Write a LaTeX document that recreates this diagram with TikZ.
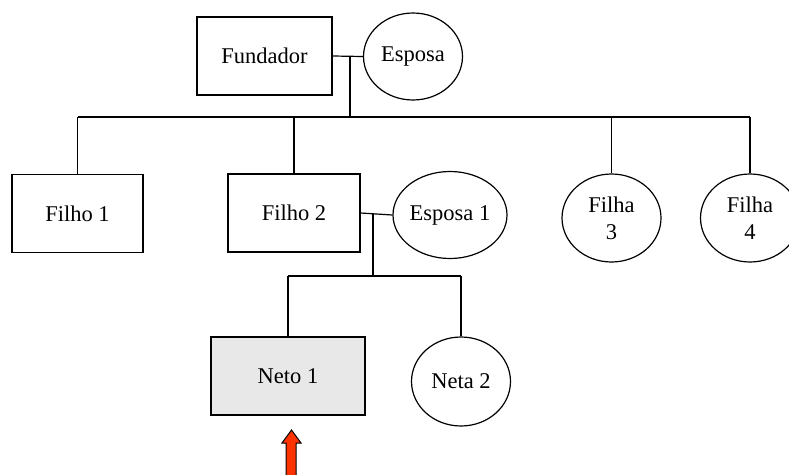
\documentclass[tikz,border=0pt]{standalone}
\usepackage{fontspec}
\setmainfont{Liberation Serif}
\usetikzlibrary{shapes.geometric}
\definecolor{setared}{HTML}{FF3300}
\definecolor{netogray}{HTML}{E8E8E8}
\tikzset{
  caixa/.style={draw,line width=1.2pt,minimum width=#1,minimum height=78pt,inner sep=0pt},
  oval/.style={draw,ellipse,line width=1.2pt,minimum width=99pt,minimum height=87pt,inner sep=0pt,align=center},
  liga/.style={line width=1.2pt},
  desce/.style={line width=2pt}
}
\begin{document}
\begin{tikzpicture}[x=1pt,y=-1pt,font=\fontsize{22.5}{27}\selectfont]
\useasboundingbox (0,0) rectangle (789,474);
\node[caixa=135pt] (Fund) at (264.5,56) {Fundador};
\node[oval] (Esp) at (413,56.5) {Esposa};
\node[caixa=131pt] (F1) at (77.5,213.5) {Filho 1};
\node[caixa=132pt] (F2) at (294,213) {Filho 2};
\node[oval] (Esp1) at (450,215) {Esposa 1};
\node[oval,minimum height=88pt] (F3) at (611.5,218) {Filha\\3};
\node[oval,minimum height=88pt] (F4) at (750,218) {Filha\\4};
\node[caixa=154pt,fill=netogray] (N1) at (288,376) {Neto 1};
\node[oval,minimum height=89pt] (N2) at (461,381.5) {Neta 2};
% casal do fundador
\draw[liga] (Fund.east) -- (Esp.west);
\coordinate (C1) at (350,56);
\coordinate (B1) at (350,117);
\draw[desce] (C1) -- (B1);
\draw[liga] (F1.north |- B1) -- (F4.north |- B1);
\draw[liga] (F1.north |- B1) -- (F1.north);
\draw[liga] (F2.north |- B1) -- (F2.north);
\draw[liga] (F3.north |- B1) -- (F3.north);
\draw[liga] (F4.north |- B1) -- (F4.north);
% casal do filho 2
\draw[liga] (F2.east) -- (Esp1.west);
\coordinate (C2) at (373,213);
\coordinate (B2) at (373,276);
\draw[desce] (C2) -- (B2);
\draw[liga] (N1.north |- B2) -- (N2.north |- B2);
\draw[liga] (N1.north |- B2) -- (N1.north);
\draw[liga] (N2.north |- B2) -- (N2.north);
% seta
\filldraw[fill=setared,draw=black,line width=1pt] (291.5,430) -- (301,443) -- (296,443) -- (296,480) -- (286,480) -- (286,443) -- (282,443) -- cycle;
\end{tikzpicture}
\end{document}
